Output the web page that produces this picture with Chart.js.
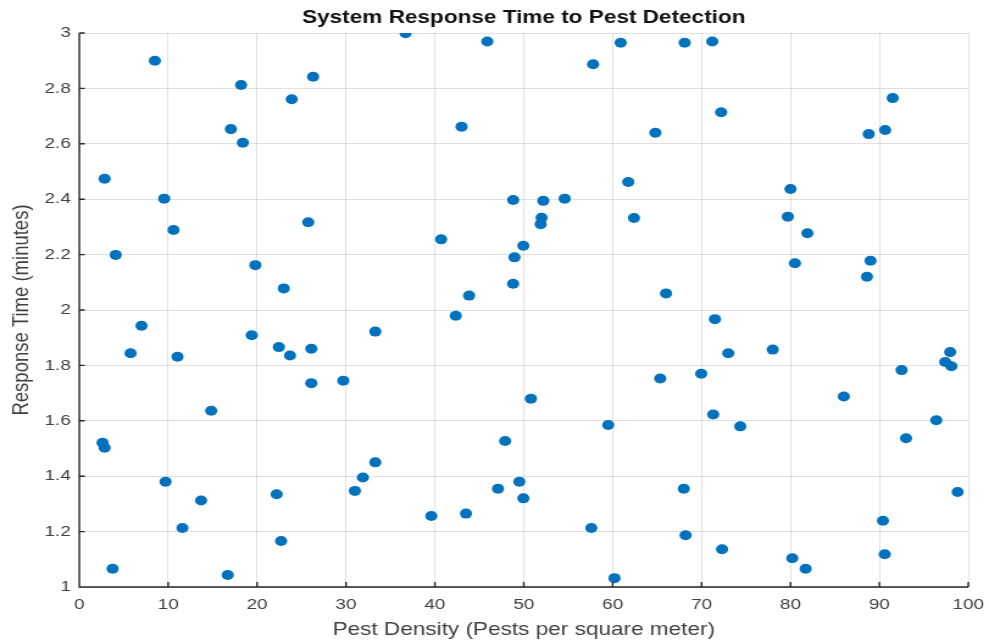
<!DOCTYPE html>
<html>
<head>
<meta charset="utf-8">
<script src="https://cdn.jsdelivr.net/npm/chart.js@4.4.1/dist/chart.umd.min.js"></script>
<style>
  html, body { margin: 0; padding: 0; background: #fff; overflow: hidden; }
  /* the original picture is stretched sideways, so the chart is drawn narrower and scaled */
  #wrap { width: 811px; height: 641px; transform: scaleX(1.2195); transform-origin: 0 0; }
</style>
</head>
<body>
<div id="wrap"><canvas id="chart" width="811" height="641"></canvas></div>
<script>
const pestDensity = [
    2.85, 4.1, 8.5, 9.55, 10.6, 7.0, 5.77, 11.05, 14.84, 2.62,
    2.85, 9.7, 13.7, 11.6, 3.75, 16.7, 17.05, 18.2, 18.4, 19.8,
    19.4, 23.9, 26.3, 25.75, 23.0, 22.45, 23.7, 26.1, 26.1, 29.7,
    22.2, 22.7, 33.3, 33.3, 31.9, 31.0, 36.7, 43.0, 45.9, 40.7,
    43.85, 42.35, 39.6, 43.5, 48.8, 48.95, 48.8, 49.95, 52.2, 52.0,
    51.9, 54.6, 50.8, 47.9, 49.5, 47.1, 49.95, 57.8, 60.9, 61.75,
    62.4, 64.8, 66.0, 65.35, 59.5, 57.6, 60.2, 68.1, 71.2, 72.2,
    71.5, 73.0, 69.96, 71.3, 74.35, 68.0, 68.2, 72.3, 78.0, 80.0,
    79.7, 81.9, 80.5, 80.2, 81.7, 86.0, 88.8, 90.65, 91.5, 89.0,
    88.6, 92.5, 97.96, 97.4, 98.1, 96.4, 93.0, 98.8, 90.4, 90.6
];
const responseTime = [
    2.474, 2.199, 2.90, 2.402, 2.289, 1.943, 1.844, 1.831, 1.636, 1.521,
    1.503, 1.38, 1.312, 1.213, 1.066, 1.043, 2.653, 2.812, 2.604, 2.162,
    1.909, 2.761, 2.842, 2.317, 2.078, 1.866, 1.836, 1.86, 1.736, 1.745,
    1.335, 1.166, 1.922, 1.45, 1.395, 1.347, 2.999, 2.662, 2.969, 2.255,
    2.052, 1.979, 1.256, 1.265, 2.397, 2.19, 2.095, 2.232, 2.394, 2.333,
    2.31, 2.402, 1.68, 1.527, 1.38, 1.355, 1.32, 2.887, 2.965, 2.462,
    2.332, 2.64, 2.06, 1.753, 1.585, 1.213, 1.032, 2.965, 2.969, 2.714,
    1.967, 1.844, 1.77, 1.623, 1.58, 1.355, 1.187, 1.136, 1.857, 2.437,
    2.337, 2.277, 2.169, 1.104, 1.066, 1.688, 2.635, 2.65, 2.765, 2.178,
    2.12, 1.783, 1.848, 1.812, 1.797, 1.602, 1.537, 1.343, 1.239, 1.118
];
const xTicks = [0, 10, 20, 30, 40, 50, 60, 70, 80, 90, 100];
const yTicks = [1, 1.2, 1.4, 1.6, 1.8, 2, 2.2, 2.4, 2.6, 2.8, 3];

const points = pestDensity.map((x, i) => ({ x: x, y: responseTime[i] }));

const axisColor = '#262626';
const gridColor = 'rgba(0,0,0,0.12)';
const font = 'Liberation Sans, Arial, sans-serif';

// dark left/bottom axis with small inward ticks
const axesPlugin = {
    id: 'axes',
    afterDatasetsDraw(chart) {
        const a = chart.chartArea;
        const ctx = chart.ctx;
        const xs = chart.scales.x, ys = chart.scales.y;
        ctx.save();
        ctx.strokeStyle = axisColor;
        ctx.lineWidth = 1.4;
        ctx.beginPath();
        ctx.moveTo(a.left, a.top);
        ctx.lineTo(a.left, a.bottom);
        ctx.lineTo(a.right, a.bottom);
        xTicks.forEach(v => {
            const px = xs.getPixelForValue(v);
            ctx.moveTo(px, a.bottom);
            ctx.lineTo(px, a.bottom - 5);
        });
        yTicks.forEach(v => {
            const py = ys.getPixelForValue(v);
            ctx.moveTo(a.left, py);
            ctx.lineTo(a.left + 4.5, py);
        });
        ctx.stroke();
        ctx.restore();
    }
};

new Chart(document.getElementById('chart'), {
    type: 'scatter',
    data: {
        datasets: [{
            data: points,
            pointStyle: 'circle',
            pointRadius: 5,
            pointHoverRadius: 5,
            pointBorderWidth: 0,
            backgroundColor: '#0072BD',
            borderColor: '#0072BD'
        }]
    },
    options: {
        responsive: false,
        animation: false,
        layout: { padding: { left: 0, right: 17, top: 0, bottom: 0 } },
        plugins: {
            legend: { display: false },
            tooltip: { enabled: false },
            title: {
                display: true,
                fullSize: false,
                text: 'System Response Time to Pest Detection',
                color: '#111',
                font: { family: font, size: 18.5, weight: 'bold' },
                padding: { top: 7, bottom: 3.8 }
            }
        },
        scales: {
            x: {
                type: 'linear',
                min: 0,
                max: 100,
                afterBuildTicks: s => { s.ticks = xTicks.map(v => ({ value: v })); },
                afterFit: s => {
                    s.height = 54;
                    s.paddingLeft = 0;
                    s.paddingRight = 0;
                },
                grid: { color: gridColor, drawTicks: false },
                border: { display: false },
                ticks: {
                    color: '#404040',
                    padding: 8,
                    font: { family: font, size: 15.5 }
                },
                title: {
                    display: true,
                    text: 'Pest Density (Pests per square meter)',
                    color: '#404040',
                    font: { family: font, size: 18.5 },
                    padding: { top: 0, bottom: 0 }
                }
            },
            y: {
                type: 'linear',
                min: 1,
                max: 3,
                afterBuildTicks: s => { s.ticks = yTicks.map(v => ({ value: v })); },
                afterFit: s => {
                    s.width = 65;
                    s.paddingTop = 0;
                    s.paddingBottom = 0;
                },
                grid: { color: gridColor, drawTicks: false },
                border: { display: false },
                ticks: {
                    color: '#404040',
                    padding: 7,
                    font: { family: font, size: 15.5 },
                    callback: v => String(Math.round(v * 10) / 10)
                },
                title: {
                    display: true,
                    text: 'Response Time (minutes)',
                    color: '#404040',
                    font: { family: font, size: 18.5 },
                    padding: { top: 7, bottom: 0 }
                }
            }
        }
    },
    plugins: [axesPlugin]
});
</script>
</body>
</html>
